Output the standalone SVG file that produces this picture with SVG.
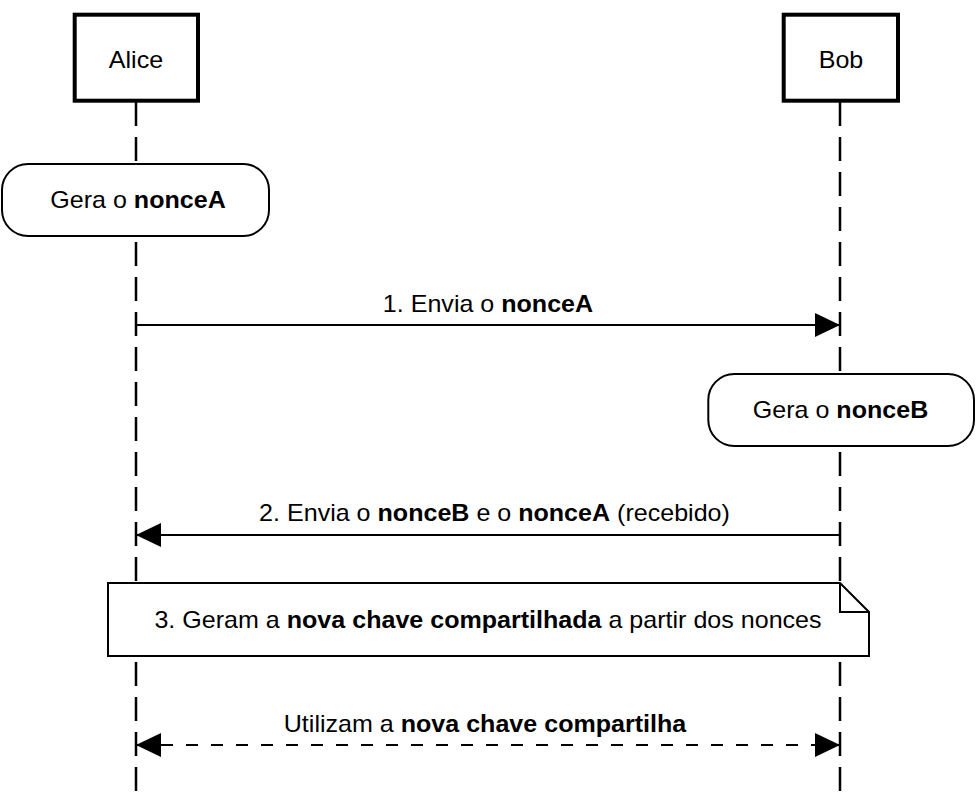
<svg xmlns="http://www.w3.org/2000/svg" width="978" height="796" viewBox="0 0 978 796">
<style>
.t{font-family:"Liberation Sans",Arial,Helvetica,sans-serif;font-size:23px;fill:#000;text-anchor:middle}
.b{font-weight:bold}
.life{stroke:#000;stroke-width:2.5;stroke-dasharray:24 11;fill:none}
.hdr{fill:#fff;stroke:#000;stroke-width:4}
.proc{fill:#fff;stroke:#000;stroke-width:2}
.msg{stroke:#000;stroke-width:2;fill:none}
.dash{stroke-dasharray:12 13}
</style>
<defs>
<marker id="ah" viewBox="0 0 25 24" refX="25" refY="12" markerWidth="25" markerHeight="24" markerUnits="userSpaceOnUse" orient="auto-start-reverse">
<path d="M0,0 L25,12 L0,24 Z" fill="#000"/>
</marker>
</defs>
<rect width="978" height="796" fill="#fff"/>
<g id="lifelines">
<line class="life" x1="136" y1="102" x2="136" y2="796"/>
<line class="life" x1="840" y1="102" x2="840" y2="796"/>
</g>
<g id="alice">
<rect class="hdr" x="74.7" y="14.7" width="123.3" height="86"/>
<text class="t" transform="translate(136,68) scale(1.09,1)">Alice</text>
</g>
<g id="bob">
<rect class="hdr" x="783.7" y="14.7" width="114.3" height="86"/>
<text class="t" transform="translate(841,68) scale(1.09,1)">Bob</text>
</g>
<g id="geraA">
<rect class="proc" x="2" y="164" width="267" height="72" rx="26" ry="26"/>
<text class="t" transform="translate(138,207.5) scale(1.09,1)">Gera o <tspan class="b">nonceA</tspan></text>
</g>
<g id="geraB">
<rect class="proc" x="708.3" y="374" width="265.7" height="72" rx="26" ry="26"/>
<text class="t" transform="translate(840.5,418) scale(1.09,1)">Gera o <tspan class="b">nonceB</tspan></text>
</g>
<g id="note">
<path class="proc" d="M108,583 H840 L869,612 V656 H108 Z"/>
<path class="msg" d="M840,583 V612 H869"/>
<text class="t" transform="translate(488,627.5) scale(1.09,1)">3. Geram a <tspan class="b">nova chave compartilhada</tspan> a partir dos nonces</text>
</g>
<g id="connectors">
<line class="msg" x1="136" y1="325" x2="840" y2="325" marker-end="url(#ah)"/>
<line class="msg" x1="840" y1="535" x2="136" y2="535" marker-end="url(#ah)"/>
<line class="msg dash" x1="136" y1="745" x2="840" y2="745" marker-start="url(#ah)" marker-end="url(#ah)"/>
</g>
<g id="labels">
<text class="t" transform="translate(488,311.5) scale(1.09,1)">1. Envia o <tspan class="b">nonceA</tspan></text>
<text class="t" transform="translate(494.5,521) scale(1.09,1)">2. Envia o <tspan class="b">nonceB</tspan> e o <tspan class="b">nonceA</tspan> (recebido)</text>
<text class="t" transform="translate(485,731.5) scale(1.09,1)">Utilizam a <tspan class="b">nova chave compartilha</tspan></text>
</g>
</svg>
